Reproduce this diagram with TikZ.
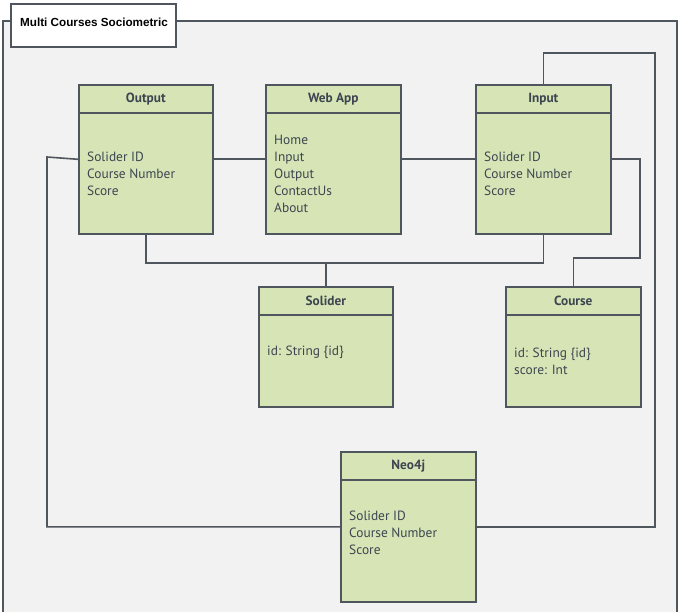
\documentclass[tikz,border=0pt]{standalone}
\usepackage{fontspec}
\setmainfont{PT Sans}
\newfontfamily\titlefont{Liberation Sans}
\usetikzlibrary{calc}
\definecolor{boxfill}{HTML}{D6E4B6}
\definecolor{linecol}{HTML}{50565E}
\definecolor{txtcol}{HTML}{3E4550}
\definecolor{bgcol}{HTML}{F2F2F2}
\begin{document}
\begin{tikzpicture}[x=1pt,y=-1pt,
  umlbox/.style={draw=linecol,fill=boxfill,line width=1.6pt,rectangle,anchor=north west,inner sep=0pt},
  hdr/.style={font=\fontsize{13.3}{15}\selectfont\bfseries,text=txtcol,inner sep=0pt},
  body/.style={font=\fontsize{13.4}{17}\selectfont,text=txtcol,align=left,anchor=west,inner sep=0pt},
  conn/.style={draw=linecol,line width=1.6pt}]
\useasboundingbox (0,0) rectangle (678,612);
% frame
\fill[white] (0,0) rectangle (678,612);
\filldraw[fill=bgcol,draw=linecol,line width=1.4pt] (3,625) -- (3,21) -- (677,21) -- (677,625);
\node[draw=linecol,fill=white,line width=1.8pt,minimum width=165pt,minimum height=43pt,anchor=north west,inner sep=0pt] (title) at (10,3) {};
\node[font=\titlefont\fontsize{11.7}{13}\selectfont\bfseries,anchor=west,inner sep=0pt] (titletext) at (20,22.5) {Multi Courses Sociometric};
% boxes
\node[umlbox,minimum width=134pt,minimum height=149pt] (output) at (78,84) {};
\node[umlbox,minimum width=135pt,minimum height=149pt] (webapp) at (265,84) {};
\node[umlbox,minimum width=135pt,minimum height=149pt] (input) at (475,84) {};
\node[umlbox,minimum width=134pt,minimum height=120pt] (solider) at (258,286) {};
\node[umlbox,minimum width=135pt,minimum height=120pt] (course) at (505,286) {};
\node[umlbox,minimum width=135pt,minimum height=150pt] (neo) at (340,451) {};
% separators
\foreach \b in {output,webapp,input,solider,course,neo}{
  \draw[draw=linecol,line width=1.6pt] ($(\b.north west)+(0,29)$) -- ($(\b.north east)+(0,29)$);
}
\node[hdr] (outputh) at ($(output.north)+(0,15)$) {Output};
\node[hdr] (webapph) at ($(webapp.north)+(0,15)$) {Web App};
\node[hdr] (inputh) at ($(input.north)+(0,15)$) {Input};
\node[hdr] (soliderh) at ($(solider.north)+(0,15)$) {Solider};
\node[hdr] (courseh) at ($(course.north)+(0,15)$) {Course};
\node[hdr] (neoh) at ($(neo.north)+(0,15)$) {Neo4j};
% bodies
\node[body] (outputb) at (87,174) {Solider ID\\Course Number\\Score};
\node[body] (webappb) at (274,174) {Home\\Input\\Output\\ContactUs\\About};
\node[body] (inputb) at (484,174) {Solider ID\\Course Number\\Score};
\node[body] (soliderb) at (267,352) {id: String \{id\}};
\node[body] (courseb) at (514,361) {id: String \{id\}\\score: Int};
\node[body] (neob) at (349,533) {Solider ID\\Course Number\\Score};
% connectors
\coordinate (busy) at (0,263);
\coordinate (cry) at (640,258);
\coordinate (rt) at (655,53);
\coordinate (lt) at (47,157);
\draw[conn] (output.east) -- (webapp.west);
\draw[conn] (webapp.east) -- (input.west);
\draw[conn] (output.south) |- (busy -| solider.north) -| (input.south);
\draw[conn] (solider.north) -- (busy -| solider.north);
\draw[conn] (input.east) -| (cry) -| (course.north);
\draw[conn] (input.north) |- (rt) |- (neo.east);
\draw[conn] (output.west) -- (lt) |- (neo.west);
\end{tikzpicture}
\end{document}
